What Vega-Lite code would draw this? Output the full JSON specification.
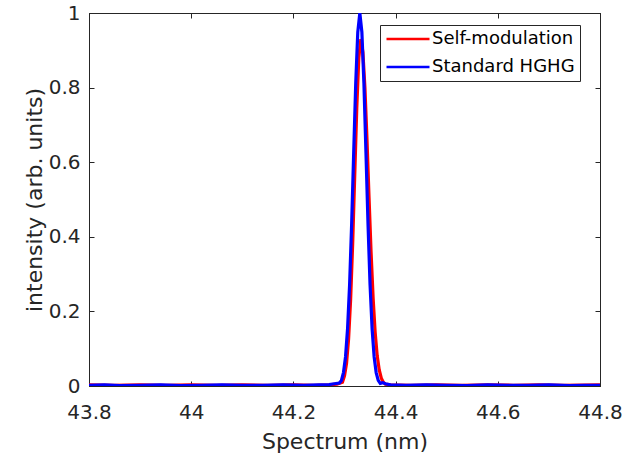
{
  "$schema": "https://vega.github.io/schema/vega-lite/v6.json",
  "width": 511,
  "height": 373,
  "autosize": {"type": "none"},
  "padding": {"left": 89, "top": 13, "right": 26, "bottom": 73},
  "background": "white",
  "config": {
    "font": "DejaVu Sans",
    "view": {"stroke": "#262626", "strokeWidth": 1},
    "axis": {
      "grid": false,
      "domainColor": "#262626",
      "tickColor": "#262626",
      "labelColor": "#262626",
      "titleColor": "#262626",
      "labelFontSize": 20,
      "titleFontSize": 22,
      "titleFontWeight": "normal",
      "labelFont": "DejaVu Sans",
      "titleFont": "DejaVu Sans",
      "tickSize": -5,
      "labelFlush": false
    }
  },
  "datasets": {
    "spec": [
      {"x": 43.800, "y": 0.002, "series": "Standard HGHG"},
      {"x": 43.830, "y": 0.003, "series": "Standard HGHG"},
      {"x": 43.860, "y": 0.001, "series": "Standard HGHG"},
      {"x": 43.900, "y": 0.002, "series": "Standard HGHG"},
      {"x": 43.940, "y": 0.003, "series": "Standard HGHG"},
      {"x": 43.980, "y": 0.001, "series": "Standard HGHG"},
      {"x": 44.020, "y": 0.002, "series": "Standard HGHG"},
      {"x": 44.060, "y": 0.003, "series": "Standard HGHG"},
      {"x": 44.100, "y": 0.002, "series": "Standard HGHG"},
      {"x": 44.140, "y": 0.002, "series": "Standard HGHG"},
      {"x": 44.180, "y": 0.003, "series": "Standard HGHG"},
      {"x": 44.220, "y": 0.002, "series": "Standard HGHG"},
      {"x": 44.250, "y": 0.003, "series": "Standard HGHG"},
      {"x": 44.270, "y": 0.004, "series": "Standard HGHG"},
      {"x": 44.280, "y": 0.006, "series": "Standard HGHG"},
      {"x": 44.290, "y": 0.008, "series": "Standard HGHG"},
      {"x": 44.294, "y": 0.015, "series": "Standard HGHG"},
      {"x": 44.298, "y": 0.036, "series": "Standard HGHG"},
      {"x": 44.302, "y": 0.078, "series": "Standard HGHG"},
      {"x": 44.306, "y": 0.154, "series": "Standard HGHG"},
      {"x": 44.310, "y": 0.272, "series": "Standard HGHG"},
      {"x": 44.314, "y": 0.435, "series": "Standard HGHG"},
      {"x": 44.318, "y": 0.626, "series": "Standard HGHG"},
      {"x": 44.322, "y": 0.812, "series": "Standard HGHG"},
      {"x": 44.326, "y": 0.949, "series": "Standard HGHG"},
      {"x": 44.330, "y": 1.000, "series": "Standard HGHG"},
      {"x": 44.334, "y": 0.949, "series": "Standard HGHG"},
      {"x": 44.338, "y": 0.812, "series": "Standard HGHG"},
      {"x": 44.342, "y": 0.626, "series": "Standard HGHG"},
      {"x": 44.346, "y": 0.435, "series": "Standard HGHG"},
      {"x": 44.350, "y": 0.272, "series": "Standard HGHG"},
      {"x": 44.354, "y": 0.154, "series": "Standard HGHG"},
      {"x": 44.358, "y": 0.078, "series": "Standard HGHG"},
      {"x": 44.362, "y": 0.036, "series": "Standard HGHG"},
      {"x": 44.366, "y": 0.015, "series": "Standard HGHG"},
      {"x": 44.370, "y": 0.007, "series": "Standard HGHG"},
      {"x": 44.375, "y": 0.009, "series": "Standard HGHG"},
      {"x": 44.380, "y": 0.006, "series": "Standard HGHG"},
      {"x": 44.390, "y": 0.003, "series": "Standard HGHG"},
      {"x": 44.420, "y": 0.002, "series": "Standard HGHG"},
      {"x": 44.460, "y": 0.003, "series": "Standard HGHG"},
      {"x": 44.500, "y": 0.002, "series": "Standard HGHG"},
      {"x": 44.540, "y": 0.001, "series": "Standard HGHG"},
      {"x": 44.580, "y": 0.003, "series": "Standard HGHG"},
      {"x": 44.620, "y": 0.002, "series": "Standard HGHG"},
      {"x": 44.660, "y": 0.002, "series": "Standard HGHG"},
      {"x": 44.700, "y": 0.003, "series": "Standard HGHG"},
      {"x": 44.740, "y": 0.001, "series": "Standard HGHG"},
      {"x": 44.770, "y": 0.002, "series": "Standard HGHG"},
      {"x": 44.800, "y": 0.002, "series": "Standard HGHG"},
      {"x": 43.800, "y": 0.003, "series": "Self-modulation"},
      {"x": 43.850, "y": 0.002, "series": "Self-modulation"},
      {"x": 43.900, "y": 0.003, "series": "Self-modulation"},
      {"x": 43.950, "y": 0.002, "series": "Self-modulation"},
      {"x": 44.000, "y": 0.003, "series": "Self-modulation"},
      {"x": 44.050, "y": 0.002, "series": "Self-modulation"},
      {"x": 44.100, "y": 0.003, "series": "Self-modulation"},
      {"x": 44.150, "y": 0.002, "series": "Self-modulation"},
      {"x": 44.200, "y": 0.003, "series": "Self-modulation"},
      {"x": 44.240, "y": 0.002, "series": "Self-modulation"},
      {"x": 44.270, "y": 0.003, "series": "Self-modulation"},
      {"x": 44.285, "y": 0.005, "series": "Self-modulation"},
      {"x": 44.296, "y": 0.010, "series": "Self-modulation"},
      {"x": 44.300, "y": 0.027, "series": "Self-modulation"},
      {"x": 44.304, "y": 0.061, "series": "Self-modulation"},
      {"x": 44.308, "y": 0.126, "series": "Self-modulation"},
      {"x": 44.312, "y": 0.232, "series": "Self-modulation"},
      {"x": 44.316, "y": 0.382, "series": "Self-modulation"},
      {"x": 44.320, "y": 0.564, "series": "Self-modulation"},
      {"x": 44.324, "y": 0.745, "series": "Self-modulation"},
      {"x": 44.328, "y": 0.880, "series": "Self-modulation"},
      {"x": 44.332, "y": 0.930, "series": "Self-modulation"},
      {"x": 44.336, "y": 0.895, "series": "Self-modulation"},
      {"x": 44.340, "y": 0.799, "series": "Self-modulation"},
      {"x": 44.344, "y": 0.661, "series": "Self-modulation"},
      {"x": 44.348, "y": 0.506, "series": "Self-modulation"},
      {"x": 44.352, "y": 0.359, "series": "Self-modulation"},
      {"x": 44.356, "y": 0.236, "series": "Self-modulation"},
      {"x": 44.360, "y": 0.144, "series": "Self-modulation"},
      {"x": 44.364, "y": 0.081, "series": "Self-modulation"},
      {"x": 44.368, "y": 0.043, "series": "Self-modulation"},
      {"x": 44.372, "y": 0.021, "series": "Self-modulation"},
      {"x": 44.376, "y": 0.010, "series": "Self-modulation"},
      {"x": 44.380, "y": 0.005, "series": "Self-modulation"},
      {"x": 44.390, "y": 0.003, "series": "Self-modulation"},
      {"x": 44.430, "y": 0.002, "series": "Self-modulation"},
      {"x": 44.480, "y": 0.003, "series": "Self-modulation"},
      {"x": 44.530, "y": 0.002, "series": "Self-modulation"},
      {"x": 44.580, "y": 0.003, "series": "Self-modulation"},
      {"x": 44.630, "y": 0.002, "series": "Self-modulation"},
      {"x": 44.680, "y": 0.003, "series": "Self-modulation"},
      {"x": 44.730, "y": 0.002, "series": "Self-modulation"},
      {"x": 44.800, "y": 0.003, "series": "Self-modulation"}
    ]
  },
  "data": {"name": "spec"},
  "layer": [
    {
      "transform": [{"filter": "datum.series === 'Self-modulation'"}],
      "mark": {"type": "line", "strokeWidth": 3.2, "clip": true},
      "encoding": {
        "x": {
          "field": "x", "type": "quantitative",
          "scale": {"domain": [43.8, 44.8], "nice": false},
          "axis": {"orient": "bottom", "title": "Spectrum (nm)", "values": [43.8, 44, 44.2, 44.4, 44.6, 44.8], "format": "~g", "labelPadding": 21, "titlePadding": 9}
        },
        "y": {
          "field": "y", "type": "quantitative",
          "scale": {"domain": [0, 1], "nice": false},
          "axis": {"orient": "left", "title": "intensity (arb. units)", "values": [0, 0.2, 0.4, 0.6, 0.8, 1], "format": "~g", "labelPadding": 14, "titlePadding": 2}
        },
        "color": {
          "field": "series", "type": "nominal",
          "scale": {"domain": ["Self-modulation", "Standard HGHG"], "range": ["#ff0000", "#0000ff"]},
          "legend": {
            "title": null,
            "orient": "none",
            "legendX": 291,
            "legendY": 12,
            "symbolType": "stroke",
            "symbolSize": 1849,
            "symbolStrokeWidth": 2.5,
            "clipHeight": 18,
            "labelFontSize": 18,
            "labelColor": "#000000",
            "labelFont": "DejaVu Sans",
            "labelExpr": "datum.label + '\u00a0\u00a0'",
            "strokeColor": "#262626",
            "fillColor": "white",
            "padding": 5,
            "rowPadding": 10,
            "labelOffset": 1
          }
        }
      }
    },
    {
      "transform": [{"filter": "datum.series === 'Standard HGHG'"}],
      "mark": {"type": "line", "strokeWidth": 3.2, "clip": true},
      "encoding": {
        "x": {"field": "x", "type": "quantitative", "axis": null},
        "y": {"field": "y", "type": "quantitative", "axis": null},
        "color": {"field": "series", "type": "nominal"}
      }
    },
    {
      "mark": {"type": "point", "opacity": 0},
      "encoding": {
        "x": {"field": "x", "type": "quantitative", "axis": {"orient": "top", "labels": false, "title": null, "values": [43.8, 44, 44.2, 44.4, 44.6, 44.8]}},
        "y": {"field": "y", "type": "quantitative", "axis": {"orient": "right", "labels": false, "title": null, "values": [0, 0.2, 0.4, 0.6, 0.8, 1]}}
      }
    }
  ],
  "resolve": {"axis": {"x": "independent", "y": "independent"}}
}
